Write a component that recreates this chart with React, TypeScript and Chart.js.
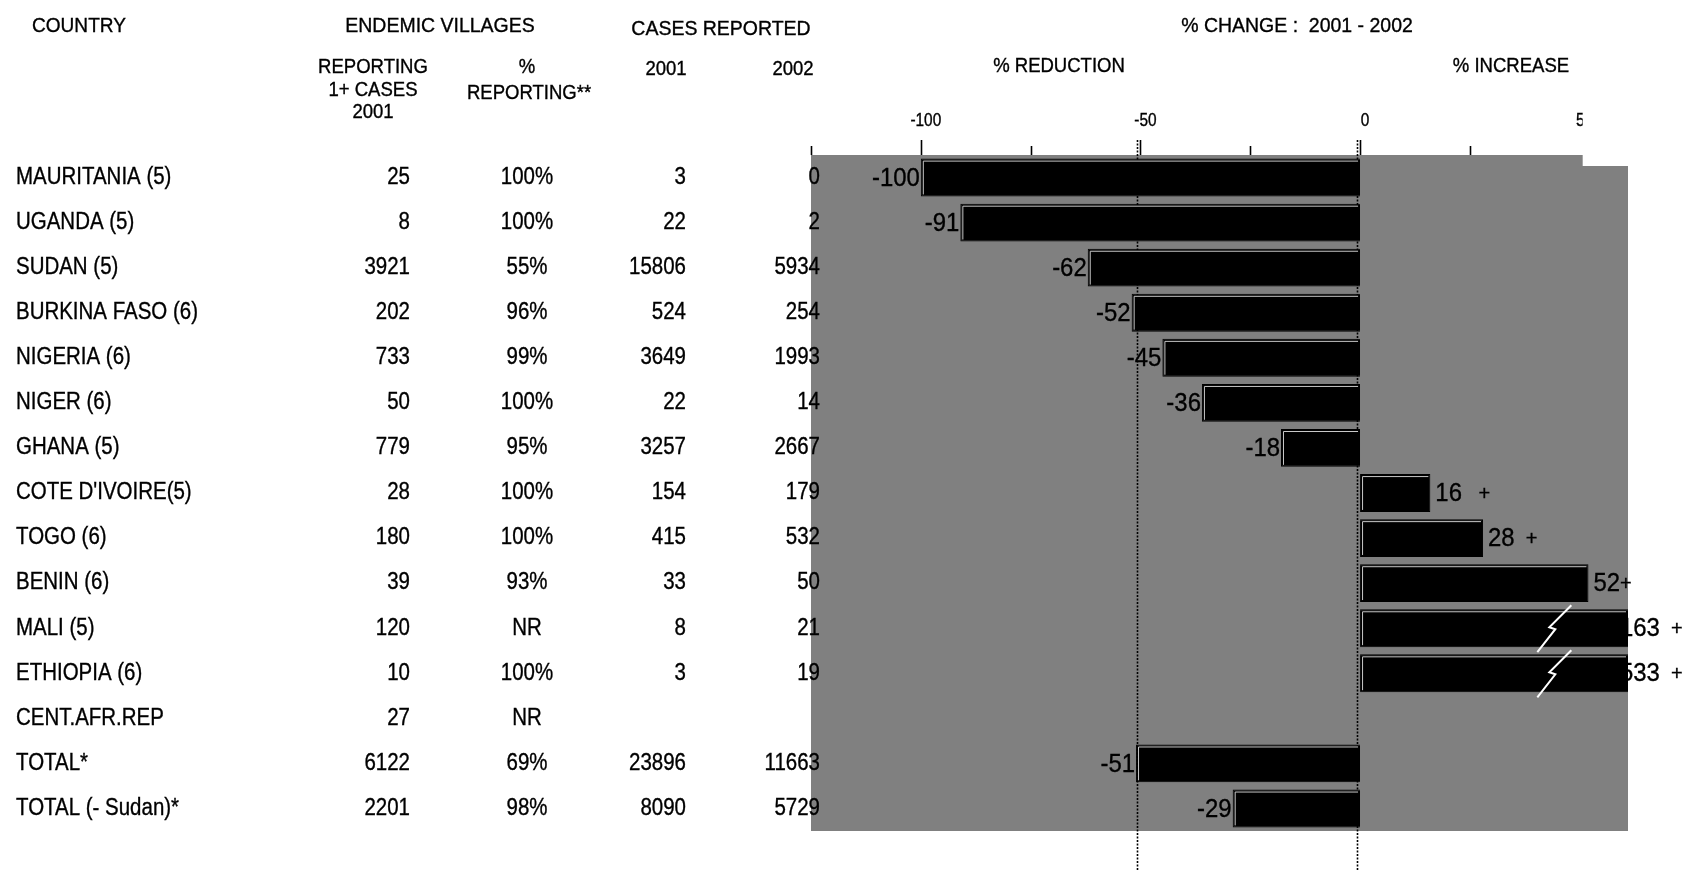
import React, { useEffect, useRef } from "react";
import { Chart, registerables } from "chart.js";

Chart.register(...registerables);

// ---------- data ----------
const countries = [
  "MAURITANIA (5)",
  "UGANDA (5)",
  "SUDAN (5)",
  "BURKINA FASO (6)",
  "NIGERIA (6)",
  "NIGER (6)",
  "GHANA (5)",
  "COTE D'IVOIRE(5)",
  "TOGO (6)",
  "BENIN (6)",
  "MALI (5)",
  "ETHIOPIA (6)",
  "CENT.AFR.REP",
  "TOTAL*",
  "TOTAL (- Sudan)*",
];
const villagesReporting = ["25", "8", "3921", "202", "733", "50", "779", "28", "180", "39", "120", "10", "27", "6122", "2201"];
const pctReporting = ["100%", "100%", "55%", "96%", "99%", "100%", "95%", "100%", "100%", "93%", "NR", "100%", "NR", "69%", "98%"];
const cases2001 = ["3", "22", "15806", "524", "3649", "22", "3257", "154", "415", "33", "8", "3", "", "23896", "8090"];
const cases2002 = ["0", "2", "5934", "254", "1993", "14", "2667", "179", "532", "50", "21", "19", "", "11663", "5729"];
const pctChange: (number | null)[] = [-100, -91, -62, -52, -45, -36, -18, 16, 28, 52, 163, 533, null, -51, -29];
const labelSuffix = ["", "", "", "", "", "", "", "   +", "  +", "+", "  +", "  +", "", "", ""];

const tickMarkValues = [-125, -100, -75, -50, -25, 0, 25];
const tickLabelValues = [-100, -50, 0, 50];
const refLines = [-50, 0];
const X_MIN = -125;
const X_MAX = 61;
const BREAK_AT = 44;

const FONT = '"Liberation Sans", Arial, Helvetica, sans-serif';

function txt(
  ctx: CanvasRenderingContext2D,
  s: string,
  x: number,
  y: number,
  size: number,
  align: CanvasTextAlign,
  sx = 0.9
): number {
  ctx.save();
  ctx.font = `${size}px ${FONT}`;
  ctx.textAlign = align;
  ctx.textBaseline = "middle";
  (ctx as any).letterSpacing = "0px";
  ctx.fillStyle = "#000";
  ctx.strokeStyle = "#000";
  ctx.lineWidth = 0.35;
  ctx.setLineDash([]);
  ctx.translate(x, y);
  ctx.scale(sx, 1);
  ctx.fillText(s, 0, 0);
  ctx.strokeText(s, 0, 0);
  const w = ctx.measureText(s).width * sx;
  ctx.restore();
  return w;
}

const decor = {
  id: "decor",
  beforeDatasetsDraw(chart: any) {
    const { ctx, chartArea: a } = chart;
    const xs = chart.scales.x;
    ctx.save();
    ctx.fillStyle = "#808080";
    ctx.fillRect(a.left, a.top, a.right - a.left, a.bottom - a.top);
    ctx.strokeStyle = "#000";
    ctx.lineWidth = 1.6;
    ctx.setLineDash([2, 1.5]);
    refLines.forEach((v) => {
      const px = Math.round(xs.getPixelForValue(v)) - 2.5;
      ctx.beginPath();
      ctx.moveTo(px, a.top - 15);
      ctx.lineTo(px, chart.height);
      ctx.stroke();
    });
    ctx.restore();
  },
  afterDatasetsDraw(chart: any) {
    const { ctx, chartArea: a } = chart;
    const xs = chart.scales.x;
    const meta = chart.getDatasetMeta(0);
    ctx.save();
    meta.data.forEach((bar: any, i: number) => {
      const v = pctChange[i];
      if (v == null) return;
      const { x: bx, y: by, base, height } = bar.getProps(["x", "y", "base", "height"], true);
      const left = Math.max(Math.min(bx, base), a.left);
      const right = Math.min(Math.max(bx, base), a.right);
      const top = by - height / 2;
      const bottom = by + height / 2;
      // bevel highlight
      ctx.strokeStyle = "#c8c8c8";
      ctx.lineWidth = 1;
      ctx.setLineDash([]);
      ctx.beginPath();
      ctx.moveTo(left + 2.5, bottom - 2);
      ctx.lineTo(left + 2.5, top + 2.5);
      ctx.lineTo(right - 2, top + 2.5);
      ctx.stroke();
      // axis break bolt
      if (v > X_MAX) {
        const cx = xs.getPixelForValue(BREAK_AT);
        ctx.strokeStyle = "#fff";
        ctx.lineWidth = 2;
        ctx.beginPath();
        ctx.moveTo(cx + 18, by - 23);
        ctx.lineTo(cx - 4, by - 1);
        ctx.lineTo(cx + 2, by + 1);
        ctx.lineTo(cx - 16, by + 24);
        ctx.stroke();
      }
      // value labels
      if (v < 0) {
        txt(ctx, String(v), bx - 1, by + 1, 26, "right", 0.92);
      } else {
        const sx = Math.min(bx + 5, a.right - 8);
        const w = txt(ctx, String(v), sx, by + 1, 26, "left", 0.92);
        if (labelSuffix[i]) txt(ctx, labelSuffix[i], sx + w, by + 1, 21, "left", 0.95);
      }
    });
    ctx.restore();
  },
  afterDraw(chart: any) {
    const { ctx, chartArea: a } = chart;
    const xs = chart.scales.x;
    const ys = chart.scales.y;
    ctx.save();
    // tick marks
    ctx.strokeStyle = "#000";
    ctx.lineWidth = 1.6;
    tickMarkValues.forEach((v) => {
      const px = Math.round(xs.getPixelForValue(v)) + 0.5;
      const len = tickLabelValues.includes(v) ? 15 : 9;
      ctx.beginPath();
      ctx.moveTo(px, a.top - len);
      ctx.lineTo(px, a.top);
      ctx.stroke();
    });
    tickLabelValues.forEach((v) => {
      txt(ctx, String(v), xs.getPixelForValue(v) + 5, a.top - 34, 17.5, "center", 0.88);
    });
    // white box covering the upper right corner
    const bx0 = xs.getPixelForValue(50) + 3;
    ctx.fillStyle = "#fff";
    ctx.fillRect(bx0, 100, a.right - bx0 + 2, a.top + 11 - 100);

    // headers
    txt(ctx, "COUNTRY", 32, 26, 20.5, "left", 0.93);
    txt(ctx, "ENDEMIC VILLAGES", 440, 26, 20.5, "center", 0.95);
    txt(ctx, "CASES REPORTED", 721, 29, 20.5, "center", 0.95);
    txt(ctx, "% CHANGE :  2001 - 2002", 1297, 26, 20.5, "center", 0.95);
    txt(ctx, "REPORTING", 373, 68, 19.5, "center", 0.95);
    txt(ctx, "1+ CASES", 373, 91, 19.5, "center", 0.95);
    txt(ctx, "2001", 373, 113, 19.5, "center", 0.95);
    txt(ctx, "%", 527, 68, 19.5, "center", 0.95);
    txt(ctx, "REPORTING**", 529, 94, 19.5, "center", 0.95);
    txt(ctx, "2001", 666, 70, 19.5, "center", 0.95);
    txt(ctx, "2002", 793, 70, 19.5, "center", 0.95);
    txt(ctx, "% REDUCTION", 1059, 67, 19.5, "center", 0.95);
    txt(ctx, "% INCREASE", 1511, 67, 19.5, "center", 0.95);

    // table rows
    countries.forEach((c, i) => {
      const y = ys.getPixelForValue(i);
      txt(ctx, c, 16, y, 23, "left", 0.89);
      txt(ctx, villagesReporting[i], 410, y, 23, "right", 0.89);
      txt(ctx, pctReporting[i], 527, y, 23, "center", 0.89);
      if (cases2001[i]) txt(ctx, cases2001[i], 686, y, 23, "right", 0.89);
      if (cases2002[i]) txt(ctx, cases2002[i], 820, y, 23, "right", 0.89);
    });
    ctx.restore();
  },
};

export default function App() {
  const ref = useRef<HTMLCanvasElement | null>(null);
  useEffect(() => {
    if (!ref.current) return;
    const chart = new Chart(ref.current, {
      type: "bar",
      data: {
        labels: countries,
        datasets: [
          {
            data: pctChange as any,
            backgroundColor: "#000",
            borderColor: "#000",
            borderWidth: 1,
            barPercentage: 0.84,
            categoryPercentage: 1,
          },
        ],
      },
      options: {
        indexAxis: "y",
        animation: false,
        responsive: true,
        maintainAspectRatio: false,
        layout: { padding: { left: 811, right: 66, top: 155, bottom: 39 } },
        scales: {
          x: { type: "linear", min: X_MIN, max: X_MAX, display: false },
          y: { type: "category", display: false, offset: true },
        },
        plugins: {
          legend: { display: false },
          tooltip: { enabled: false },
        },
      },
      plugins: [decor],
    });
    return () => chart.destroy();
  }, []);
  return (
    <div style={{ position: "fixed", left: 0, top: 0, width: 1694, height: 870, background: "#fff" }}>
      <canvas ref={ref} />
    </div>
  );
}
